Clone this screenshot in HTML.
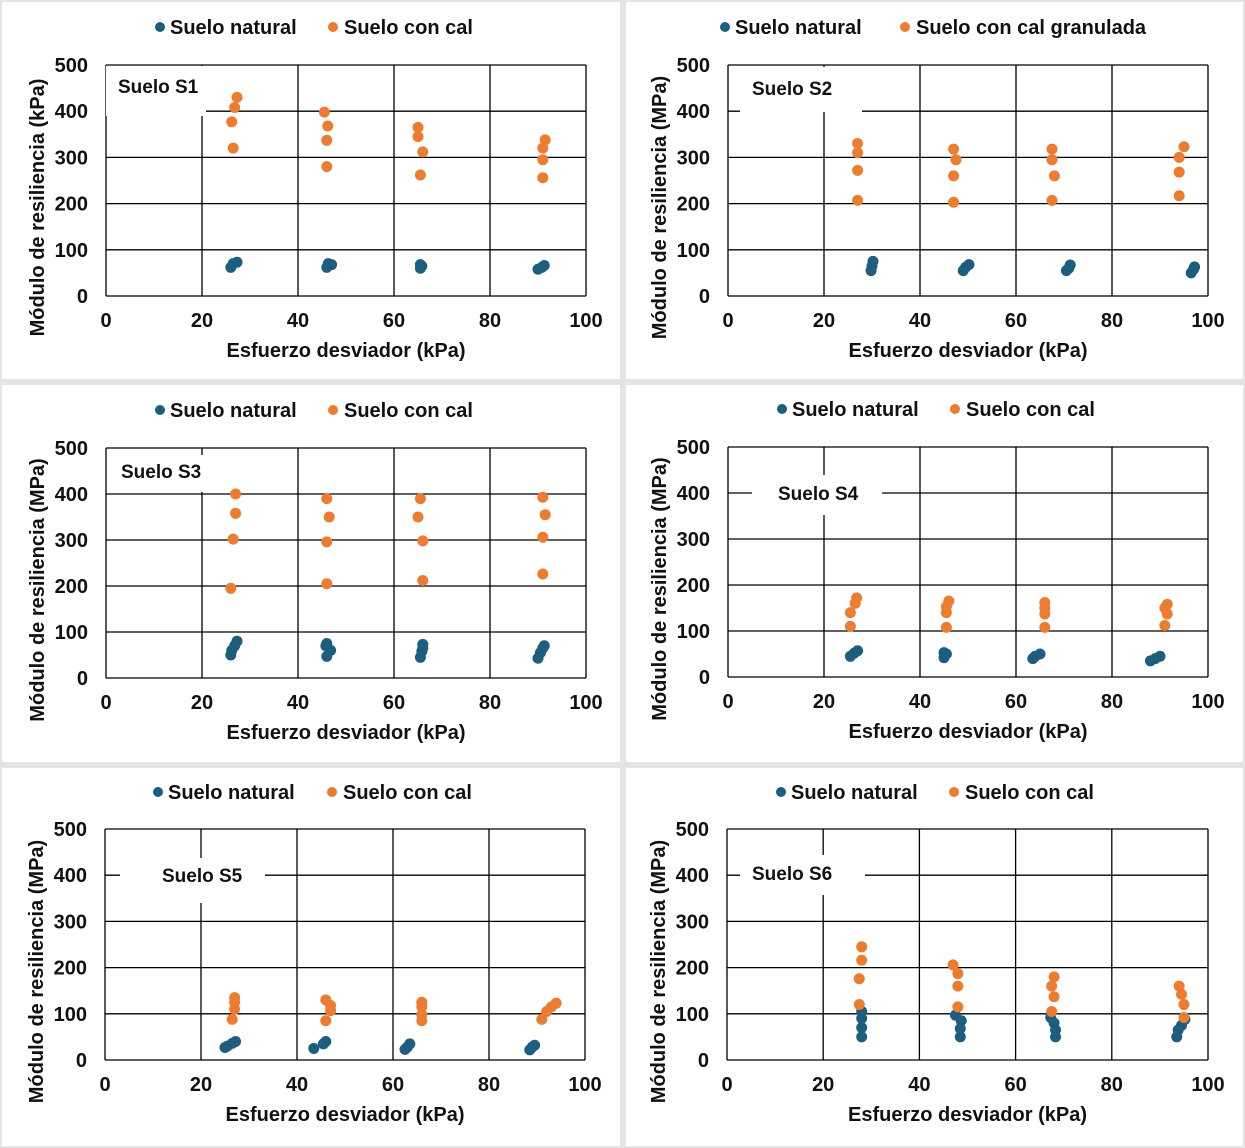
<!DOCTYPE html>
<html><head><meta charset="utf-8"><style>
html,body{margin:0;padding:0;background:#e4e4e4;}
svg{display:block;font-family:"Liberation Sans",Arial,sans-serif;}
svg text{font-weight:700;}
</style></head><body>
<svg id="fig" width="1245" height="1148" viewBox="0 0 1245 1148" xmlns="http://www.w3.org/2000/svg"></svg>
<script>
// ---- data per panel ----
const xTicks = [0,20,40,60,80,100];
const yTicks = [0,100,200,300,400,500];
const s1NatX = [26,26.5,27.3,46,46.3,47,65.5,65.8,65.5,90,90.8,91.3];
const s1NatY = [62,70,73,62,70,68,60,65,68,58,62,66];
const s1CalX = [26.5,26.2,26.8,27.3,46,46,46.2,45.5,65.5,66,65,65,91,91,91,91.5];
const s1CalY = [320,377,408,430,280,337,368,398,262,312,345,365,256,295,320,338];
const s2NatX = [29.8,30,30.2,49,49.5,50.2,70.5,71,71.3,96.5,97,97.2];
const s2NatY = [55,65,75,55,62,68,55,60,67,50,58,63];
const s2CalX = [27,27,27,27,47,47,47.5,47,67.5,68,67.5,67.5,94,94,94,95];
const s2CalY = [207,272,310,330,203,260,295,318,207,260,295,318,217,268,300,323];
const s3NatX = [26,26.2,26.8,27.3,46,46.8,45.8,46,65.5,65.8,66,66,90,90.5,91,91.3];
const s3NatY = [50,60,70,80,47,60,70,75,45,58,65,73,43,55,65,70];
const s3CalX = [26,26.5,27,27,46,46,46.5,46,66,66,65,65.5,91,91,91.5,91];
const s3CalY = [195,302,358,400,205,296,350,390,212,298,350,390,226,306,355,393];
const s4NatX = [25.5,26.3,27,45,45.5,45,63.5,64,65,88,89,90];
const s4NatY = [45,52,57,42,50,53,40,45,50,35,40,45];
const s4CalX = [25.5,25.5,26.5,26.8,45.5,45.5,45.5,46,66,66,66,66,91,91.5,91,91.5];
const s4CalY = [110,140,160,172,108,140,153,165,108,137,150,162,112,137,150,158];
const s5NatX = [25,25.5,26.5,27.2,43.5,45.5,46,62.5,63,63.5,88.5,89,89.5];
const s5NatY = [27,30,36,40,25,35,40,23,28,35,22,28,32];
const s5CalX = [26.5,27,27,27,46,47,47,46,66,66,66,66,91,92,93,94];
const s5CalY = [88,110,125,135,85,107,118,130,85,98,115,125,88,105,115,123];
const s6NatX = [28,28,28,28,48.5,48.5,48.7,47.5,68.3,68.3,68,67.3,93.5,93.8,94.5,95.2];
const s6NatY = [50,70,90,105,50,68,85,97,50,65,80,92,50,65,75,88];
const s6CalX = [27.5,27.5,28,28,48,48,48,47,67.5,68,67.5,68,95,95,94.5,94];
const s6CalY = [120,176,216,245,115,160,187,206,105,137,160,180,92,120,142,160];

const panels = [
 {id:'s1',bg:[2,2,618,377],px0:106,px1:586,py0:296,py1:65,yTitle:'Módulo de resiliencia (kPa)',label:'Suelo S1',lx:118,ly:93,lbox:[106,66,100,50],leg:[160,333,27],calName:'Suelo con cal',nx:s1NatX,ny:s1NatY,cx:s1CalX,cy:s1CalY},
 {id:'s2',bg:[626,2,617,377],px0:728,px1:1208,py0:296,py1:65,yTitle:'Módulo de resiliencia (MPa)',label:'Suelo S2',lx:752,ly:95,lbox:[740,67,122,45],leg:[725,905,27],calName:'Suelo con cal granulada',nx:s2NatX,ny:s2NatY,cx:s2CalX,cy:s2CalY},
 {id:'s3',bg:[2,385,618,377],px0:106,px1:586,py0:678,py1:448,yTitle:'Módulo de resiliencia (MPa)',label:'Suelo S3',lx:121,ly:478,lbox:[107,455,98,37],leg:[160,333,410],calName:'Suelo con cal',nx:s3NatX,ny:s3NatY,cx:s3CalX,cy:s3CalY},
 {id:'s4',bg:[626,385,617,377],px0:728,px1:1208,py0:677,py1:447,yTitle:'Módulo de resiliencia (MPa)',label:'Suelo S4',lx:778,ly:500,lbox:[752,475,130,40],leg:[782,955,409],calName:'Suelo con cal',nx:s4NatX,ny:s4NatY,cx:s4CalX,cy:s4CalY},
 {id:'s5',bg:[2,768,618,378],px0:105,px1:585,py0:1060,py1:829,yTitle:'Módulo de resiliencia (MPa)',label:'Suelo S5',lx:162,ly:882,lbox:[120,858,145,45],leg:[158,332,792],calName:'Suelo con cal',nx:s5NatX,ny:s5NatY,cx:s5CalX,cy:s5CalY},
 {id:'s6',bg:[626,768,617,378],px0:727,px1:1208,py0:1060,py1:829,yTitle:'Módulo de resiliencia (MPa)',label:'Suelo S6',lx:752,ly:880,lbox:[740,855,125,40],leg:[781,954,792],calName:'Suelo con cal',nx:s6NatX,ny:s6NatY,cx:s6CalX,cy:s6CalY}
];
const BLUE='#1d5e7e', ORANGE='#ec7c30';
const NS='http://www.w3.org/2000/svg';
const svg=document.getElementById('fig');
function mk(tag,attrs,parent,text){const e=document.createElementNS(NS,tag);for(const k in attrs)e.setAttribute(k,attrs[k]);if(text!==undefined)e.textContent=text;parent.appendChild(e);return e;}

panels.forEach(p=>{
  const g=mk('g',{},svg);
  
  
  const bg=mk('rect',{x:p.bg[0],y:p.bg[1],width:p.bg[2],height:p.bg[3],fill:'#fff'},g);
  
  
  const sx=v=>p.px0+(p.px1-p.px0)*v/100;
  const sy=v=>p.py0+(p.py1-p.py0)*v/500;
  yTicks.forEach(t=>{
    const l=mk('line',{x1:p.px0,x2:p.px1,y1:sy(t),y2:sy(t),stroke:'#000','stroke-width':1.3},g);
    
    
    const tx=mk('text',{x:p.px0-18,y:sy(t)+7,'text-anchor':'end','font-size':20,'font-weight':700,fill:'#111'},g,String(t));
    
    
  });
  xTicks.forEach(t=>{
    const l=mk('line',{x1:sx(t),x2:sx(t),y1:p.py0,y2:p.py1,stroke:'#000','stroke-width':1.3},g);
    
    
    const tx=mk('text',{x:sx(t),y:p.py0+31,'text-anchor':'middle','font-size':20,'font-weight':700,fill:'#111'},g,String(t));
    
    
  });
  const lb=mk('rect',{x:p.lbox[0],y:p.lbox[1],width:p.lbox[2],height:p.lbox[3],fill:'#fff'},g);
  
  
  const lt=mk('text',{x:p.lx,y:p.ly,'font-size':19,'font-weight':700,fill:'#111'},g,p.label);
  
  
  const xt=mk('text',{x:(p.px0+p.px1)/2,y:p.py0+61,'text-anchor':'middle','font-size':20,'font-weight':700,fill:'#111'},g,'Esfuerzo desviador (kPa)');
  
  
  const cyT=(p.py0+p.py1)/2+27, cxT=p.px0-62;
  const yt=mk('text',{x:cxT,y:cyT,'text-anchor':'middle','font-size':20,'font-weight':700,fill:'#111',transform:`rotate(-90 ${cxT} ${cyT})`},g,p.yTitle);
  
  
  p.nx.forEach((v,i)=>{
    const c=mk('circle',{cx:sx(v),cy:sy(p.ny[i]),r:5.5,fill:BLUE},g);
    
    
  });
  p.cx.forEach((v,i)=>{
    const c=mk('circle',{cx:sx(v),cy:sy(p.cy[i]),r:5.5,fill:ORANGE},g);
    
    
  });
  const ly=p.leg[2];
  const d1=mk('circle',{cx:p.leg[0],cy:ly,r:5,fill:BLUE},g);
  
  
  const t1=mk('text',{x:p.leg[0]+10,y:ly+7,'font-size':20,'font-weight':700,fill:'#111'},g,'Suelo natural');
  
  
  const d2=mk('circle',{cx:p.leg[1],cy:ly,r:5,fill:ORANGE},g);
  
  
  const t2=mk('text',{x:p.leg[1]+11,y:ly+7,'font-size':20,'font-weight':700,fill:'#111'},g,p.calName);
  
  
});
</script>
</body></html>
